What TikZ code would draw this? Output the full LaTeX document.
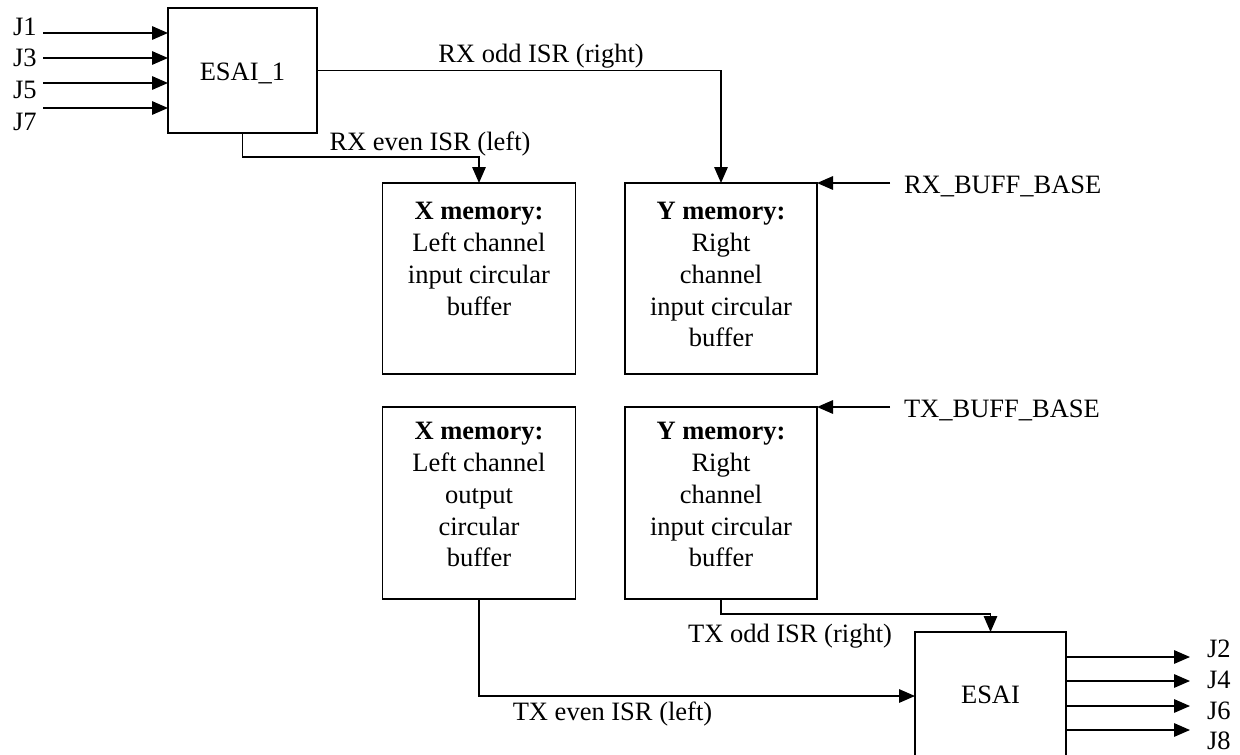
\documentclass[tikz,border=0pt]{standalone}
\usepackage{fontspec}
\setmainfont{Liberation Serif}
\usetikzlibrary{arrows.meta}
\begin{document}
\begin{tikzpicture}[x=1pt,y=-1pt,
  line width=1.5pt,
  every node/.style={font=\fontsize{26.5}{31.75}\selectfont, inner sep=0pt, outer sep=0pt},
  box/.style={draw, rectangle},
  arr/.style={-{Triangle[length=16pt,width=13.5pt]}}
]
\useasboundingbox (0,0) rectangle (1240,755);
% boxes
\node[box, minimum width=149pt, minimum height=125pt] (esai1) at (242.5,70.5) {};
\node[anchor=base] (esai1t) at (242.5,80) {ESAI\_1};
\node[box, minimum width=193pt, minimum height=191pt] (xin) at (479,278.5) {};
\node[box, minimum width=192pt, minimum height=191pt] (yin) at (721,278.5) {};
\node[box, minimum width=193pt, minimum height=192pt] (xout) at (479,503) {};
\node[box, minimum width=192pt, minimum height=192pt] (yout) at (721,503) {};
\node[box, minimum width=151pt, minimum height=128pt] (esai) at (990.5,696) {};
\node[anchor=base] (esait) at (990.5,703) {ESAI};
% box texts
\node[anchor=north, align=center] (xint) at (479,202.5) {\textbf{X memory:}\\Left channel\\input circular\\buffer};
\node[anchor=north, align=center] (yint) at (721,202.5) {\textbf{Y memory:}\\Right\\channel\\input circular\\buffer};
\node[anchor=north, align=center] (xoutt) at (479,422.5) {\textbf{X memory:}\\Left channel\\output\\circular\\buffer};
\node[anchor=north, align=center] (youtt) at (721,422.5) {\textbf{Y memory:}\\Right\\channel\\input circular\\buffer};
% input labels
\node[anchor=base west] (j1) at (13,35) {J1};
\node[anchor=base west] (j3) at (13,66) {J3};
\node[anchor=base west] (j5) at (13,98) {J5};
\node[anchor=base west] (j7) at (13,130) {J7};
\coordinate (i1) at (43,33);
\coordinate (i3) at (43,58);
\coordinate (i5) at (43,83);
\coordinate (i7) at (43,108);
\foreach \c in {i1,i3,i5,i7} \draw[arr] (\c) -- (\c -| esai1.west);
% output labels
\node[anchor=base west] (j2) at (1207,657) {J2};
\node[anchor=base west] (j4) at (1207,688) {J4};
\node[anchor=base west] (j6) at (1207,719) {J6};
\node[anchor=base west] (j8) at (1207,749) {J8};
\coordinate (o2) at (1190,657);
\coordinate (o4) at (1190,681);
\coordinate (o6) at (1190,706);
\coordinate (o8) at (1190,730);
\foreach \c in {o2,o4,o6,o8} \draw[arr] (\c -| esai.east) -- (\c);
% RX paths
\draw[arr] (esai1.east) -| (yin.north);
\node[anchor=base] (rxodd) at (541,62) {RX odd ISR (right)};
\draw[arr] (esai1.south) |- ([yshift=26pt]xin.north) -- (xin.north);
\node[anchor=base] (rxeven) at (430,150) {RX even ISR (left)};
% buffer bases
\node[anchor=base west] (rxb) at (904,193) {RX\_BUFF\_BASE};
\coordinate (rxs) at (890,183);
\draw[arr] (rxs) -- (yin.north east);
\node[anchor=base west] (txb) at (904,417) {TX\_BUFF\_BASE};
\coordinate (txs) at (890,407);
\draw[arr] (txs) -- (yout.north east);
% TX paths
\draw[arr] (yout.south) |- ([yshift=18pt]esai.north) -- (esai.north);
\node[anchor=base] (txodd) at (790,642) {TX odd ISR (right)};
\draw[arr] (xout.south) |- (esai.west);
\node[anchor=base] (txeven) at (612.5,720) {TX even ISR (left)};
\end{tikzpicture}
\end{document}
